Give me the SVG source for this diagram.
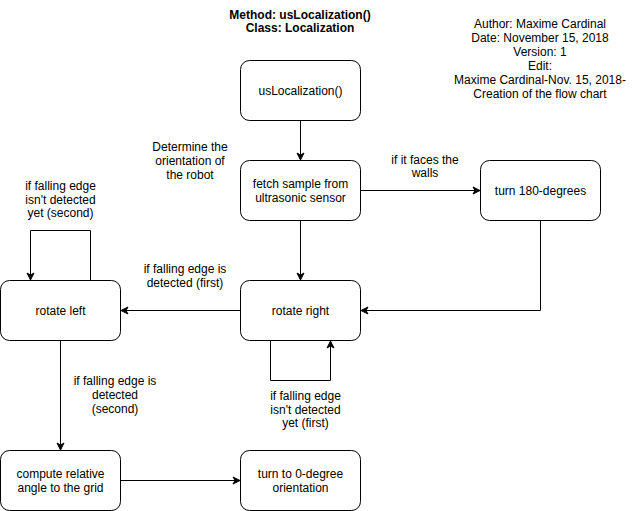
<svg xmlns="http://www.w3.org/2000/svg" width="641" height="511" viewBox="0 0 641 511">
  <defs>
    <marker id="arrow" markerWidth="10" markerHeight="10" refX="8" refY="5" orient="auto" markerUnits="userSpaceOnUse">
      <path d="M1,1.5 L8,5 L1,8.5 L3,5 Z" fill="#000" stroke="#000" stroke-width="1"/>
    </marker>
    <style>
      text { font-family: "Liberation Sans", Arial, Helvetica, sans-serif; font-size: 12px; fill: #000; text-anchor: middle; }
      .title { font-weight: bold; }
      .box { fill: #fff; stroke: #000; stroke-width: 1; }
      .edge { fill: none; stroke: #000; stroke-width: 1; marker-end: url(#arrow); }
    </style>
  </defs>
  <rect width="641" height="511" fill="#fff"/>

  <!-- header -->
  <g id="title">
    <text class="title" x="300" y="18.5">Method: usLocalization()</text>
    <text class="title" x="300" y="32">Class: Localization</text>
  </g>
  <g id="author">
    <text x="540" y="28">Author: Maxime Cardinal</text>
    <text x="540" y="42">Date: November 15, 2018</text>
    <text x="540" y="56">Version: 1</text>
    <text x="540" y="70">Edit:</text>
    <text x="540" y="84">Maxime Cardinal-Nov. 15, 2018-</text>
    <text x="540" y="98">Creation of the flow chart</text>
  </g>

  <!-- connectors -->
  <g id="connectors">
    <path class="edge" d="M300.5,120.5 V160"/>
    <path class="edge" d="M360.5,190.5 H480"/>
    <path class="edge" d="M300.5,220.5 V280"/>
    <path class="edge" d="M540.5,220.5 V310.5 H361"/>
    <path class="edge" d="M240.5,310.5 H121"/>
    <path class="edge" d="M90.5,280.5 V230.5 H30.5 V280"/>
    <path class="edge" d="M270.5,340.5 V380.5 H330.5 V341"/>
    <path class="edge" d="M60.5,340.5 V450"/>
    <path class="edge" d="M120.5,480.5 H240"/>
  </g>

  <!-- edge labels -->
  <g id="labels">
    <text x="190" y="151">Determine the</text>
    <text x="190" y="165">orientation of</text>
    <text x="190" y="179">the robot</text>
    <text x="425" y="164">if it faces the</text>
    <text x="425" y="177">walls</text>
    <text x="60.5" y="190">if falling edge</text>
    <text x="60.5" y="204">isn't detected</text>
    <text x="60.5" y="217">yet (second)</text>
    <text x="185" y="273">if falling edge is</text>
    <text x="185" y="287">detected (first)</text>
    <text x="115" y="385">if falling edge is</text>
    <text x="115" y="399">detected</text>
    <text x="115" y="413">(second)</text>
    <text x="305.5" y="400">if falling edge</text>
    <text x="305.5" y="414">isn't detected</text>
    <text x="305.5" y="427">yet (first)</text>
  </g>

  <!-- nodes -->
  <g id="node-start">
    <rect class="box" x="240.5" y="60.5" width="120" height="60" rx="9"/>
    <text x="300.5" y="94.5">usLocalization()</text>
  </g>
  <g id="node-fetch">
    <rect class="box" x="240.5" y="160.5" width="120" height="60" rx="9"/>
    <text x="300.5" y="187.5">fetch sample from</text>
    <text x="300.5" y="201.5">ultrasonic sensor</text>
  </g>
  <g id="node-turn180">
    <rect class="box" x="480.5" y="160.5" width="120" height="60" rx="9"/>
    <text x="540.5" y="194.5">turn 180-degrees</text>
  </g>
  <g id="node-rotate-right">
    <rect class="box" x="240.5" y="280.5" width="120" height="60" rx="9"/>
    <text x="300.5" y="314.5">rotate right</text>
  </g>
  <g id="node-rotate-left">
    <rect class="box" x="0.5" y="280.5" width="120" height="60" rx="9"/>
    <text x="60.5" y="314.5">rotate left</text>
  </g>
  <g id="node-compute">
    <rect class="box" x="0.5" y="450.5" width="120" height="60" rx="9"/>
    <text x="60.5" y="477.5">compute relative</text>
    <text x="60.5" y="491.5">angle to the grid</text>
  </g>
  <g id="node-turn0">
    <rect class="box" x="240.5" y="450.5" width="120" height="60" rx="9"/>
    <text x="300.5" y="477.5">turn to 0-degree</text>
    <text x="300.5" y="491.5">orientation</text>
  </g>
</svg>
